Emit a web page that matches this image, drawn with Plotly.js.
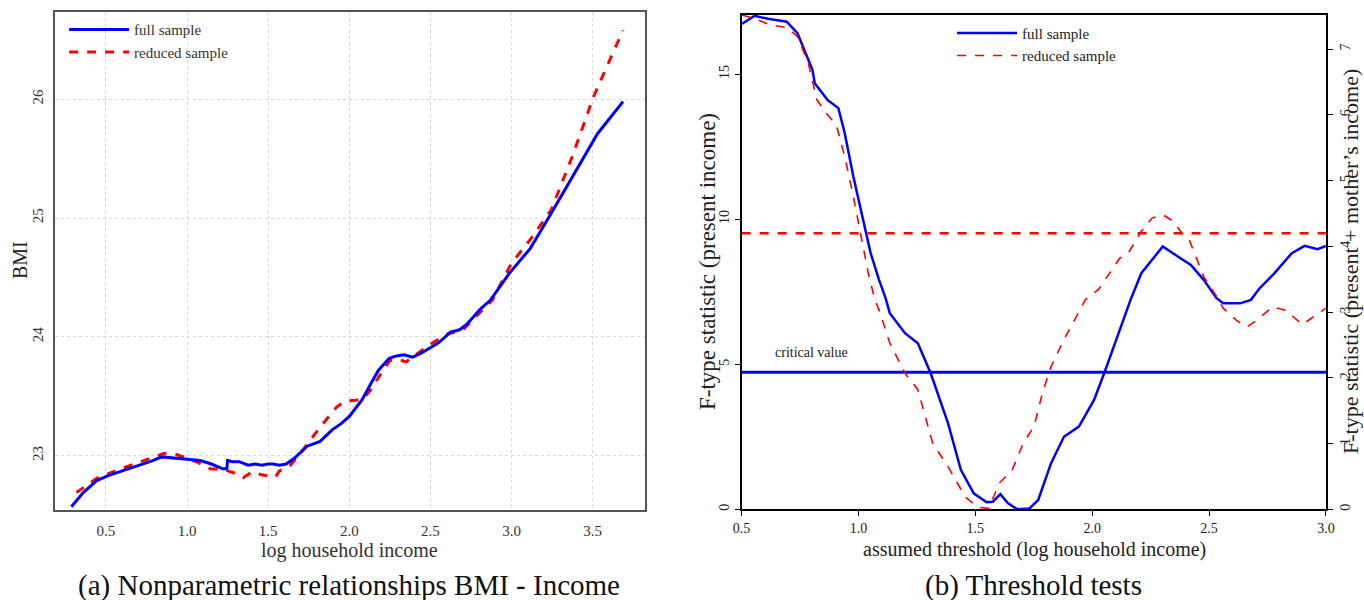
<!DOCTYPE html>
<html>
<head>
<meta charset="utf-8">
<script src="https://cdn.plot.ly/plotly-3.0.1.min.js"></script>
<style>
  body { margin: 0; background: #fff; }
  #graph { width: 1364px; height: 600px; }
</style>
</head>
<body>
<div id="graph"></div>
<script>
// (a) BMI vs log household income
var incomeFull = [0.287, 0.36, 0.443, 0.51, 0.573, 0.64, 0.703, 0.78, 0.845, 0.92, 1.0, 1.08, 1.15, 1.22, 1.245, 1.25, 1.28, 1.32, 1.377, 1.42, 1.46, 1.5, 1.53, 1.57, 1.611, 1.663, 1.74, 1.82, 1.896, 1.95, 2.0, 2.078, 2.13, 2.18, 2.246, 2.29, 2.337, 2.39, 2.44, 2.493, 2.55, 2.6, 2.623, 2.68, 2.727, 2.805, 2.87, 2.986, 3.116, 3.245, 3.375, 3.53, 3.687];
var bmiFull = [22.57, 22.69, 22.79, 22.83, 22.86, 22.89, 22.92, 22.955, 22.99, 22.98, 22.975, 22.96, 22.93, 22.89, 22.89, 22.96, 22.95, 22.95, 22.92, 22.93, 22.92, 22.93, 22.93, 22.92, 22.93, 22.98, 23.08, 23.12, 23.22, 23.27, 23.33, 23.47, 23.60, 23.72, 23.82, 23.84, 23.85, 23.83, 23.86, 23.90, 23.95, 24.01, 24.04, 24.06, 24.11, 24.23, 24.31, 24.535, 24.745, 25.04, 25.35, 25.71, 25.98];

var incomeReduced = [0.318, 0.443, 0.573, 0.703, 0.858, 0.935, 1.066, 1.144, 1.235, 1.30, 1.346, 1.403, 1.458, 1.50, 1.546, 1.567, 1.637, 1.715, 1.82, 1.922, 1.974, 2.078, 2.13, 2.195, 2.25, 2.30, 2.35, 2.41, 2.49, 2.596, 2.70, 2.78, 2.882, 3.0, 3.116, 3.245, 3.375, 3.505, 3.687];
var bmiReduced = [22.69, 22.81, 22.88, 22.944, 23.02, 23.01, 22.944, 22.89, 22.88, 22.85, 22.815, 22.865, 22.84, 22.83, 22.82, 22.87, 22.92, 23.05, 23.24, 23.41, 23.46, 23.47, 23.55, 23.69, 23.80, 23.81, 23.79, 23.85, 23.93, 24.02, 24.06, 24.17, 24.31, 24.62, 24.82, 25.07, 25.52, 26.02, 26.58];

// (b) threshold tests
var thrFull = [0.5, 0.555, 0.619, 0.693, 0.739, 0.803, 0.813, 0.868, 0.914, 0.941, 0.978, 1.015, 1.052, 1.088, 1.116, 1.134, 1.199, 1.254, 1.309, 1.383, 1.438, 1.493, 1.548, 1.575, 1.607, 1.64, 1.68, 1.732, 1.769, 1.824, 1.879, 1.943, 2.008, 2.054, 2.118, 2.164, 2.21, 2.265, 2.302, 2.376, 2.422, 2.477, 2.532, 2.56, 2.633, 2.679, 2.716, 2.78, 2.854, 2.909, 2.964, 3.0];
var fFull = [16.73, 17.01, 16.9, 16.81, 16.41, 15.15, 14.69, 14.11, 13.83, 12.97, 11.47, 10.09, 8.83, 7.91, 7.28, 6.76, 6.07, 5.72, 4.69, 2.97, 1.36, 0.55, 0.24, 0.26, 0.52, 0.21, 0.0, 0.03, 0.32, 1.59, 2.50, 2.85, 3.77, 4.75, 6.18, 7.22, 8.14, 8.71, 9.06, 8.66, 8.42, 7.91, 7.28, 7.10, 7.10, 7.22, 7.62, 8.14, 8.83, 9.08, 8.97, 9.08];

var thrReduced = [0.5, 0.555, 0.619, 0.693, 0.739, 0.785, 0.822, 0.868, 0.905, 0.941, 0.978, 1.015, 1.042, 1.07, 1.088, 1.134, 1.199, 1.254, 1.318, 1.383, 1.456, 1.511, 1.557, 1.603, 1.658, 1.704, 1.751, 1.787, 1.824, 1.879, 1.916, 1.971, 2.026, 2.072, 2.118, 2.155, 2.21, 2.256, 2.302, 2.348, 2.394, 2.415, 2.477, 2.532, 2.56, 2.615, 2.66, 2.706, 2.771, 2.826, 2.9, 2.927, 2.982, 3.0];
var fReduced = [7.52, 7.47, 7.37, 7.33, 7.19, 6.79, 6.23, 6.0, 5.85, 5.37, 4.76, 4.10, 3.59, 3.19, 3.03, 2.53, 2.07, 1.82, 1.0, 0.65, 0.19, 0.03, 0.015, 0.40, 0.60, 1.0, 1.26, 1.77, 2.17, 2.58, 2.83, 3.19, 3.34, 3.59, 3.82, 3.90, 4.23, 4.43, 4.48, 4.38, 4.15, 4.10, 3.54, 3.24, 3.06, 2.88, 2.77, 2.88, 3.08, 3.03, 2.81, 2.88, 3.01, 3.06];

var thrRange = [0.5, 3.0];
var critFull = [4.72, 4.72];
var critReduced = [4.20, 4.20];

var serif = "Liberation Serif";
var blue = "#0000ff";
var red = "#ff0000";

var data = [
  {x: incomeReduced, y: bmiReduced, type: "scatter", mode: "lines", name: "reduced sample",
   xaxis: "x", yaxis: "y", legend: "legend", legendrank: 2,
   line: {color: red, width: 3, dash: "dash"}},
  {x: incomeFull, y: bmiFull, type: "scatter", mode: "lines", name: "full sample",
   xaxis: "x", yaxis: "y", legend: "legend", legendrank: 1,
   line: {color: blue, width: 3}},

  {x: thrRange, y: critReduced, type: "scatter", mode: "lines", showlegend: false,
   xaxis: "x2", yaxis: "y3", line: {color: red, width: 2.5, dash: "dash"}},
  {x: thrReduced, y: fReduced, type: "scatter", mode: "lines", name: "reduced sample",
   xaxis: "x2", yaxis: "y3", legend: "legend2", legendrank: 2,
   line: {color: red, width: 1.6, dash: "dash"}},
  {x: thrRange, y: critFull, type: "scatter", mode: "lines", showlegend: false,
   xaxis: "x2", yaxis: "y2", line: {color: blue, width: 3}},
  {x: thrFull, y: fFull, type: "scatter", mode: "lines", name: "full sample",
   xaxis: "x2", yaxis: "y2", legend: "legend2", legendrank: 1,
   line: {color: blue, width: 2.5}}
];

function label(text, x, y, size, angle, color) {
  return {text: text, xref: "paper", yref: "paper", x: x / 1364, y: 1 - y / 600,
    xanchor: "center", yanchor: "middle", textangle: angle || 0, showarrow: false,
    font: {size: size, color: color || "#222"}};
}

var layout = {
  width: 1364, height: 600,
  margin: {l: 0, r: 0, t: 0, b: 0},
  paper_bgcolor: "#fff", plot_bgcolor: "rgba(0,0,0,0)",
  font: {family: serif, size: 15, color: "#222"},
  xaxis: {domain: [0.0401, 0.4729], anchor: "y", range: [0.184, 3.823],
    tickvals: [0.5, 1.0, 1.5, 2.0, 2.5, 3.0, 3.5], tickformat: ".1f",
    showgrid: true, gridcolor: "#d8d8d8", griddash: "dot", gridwidth: 1,
    zeroline: false, showline: true, mirror: true, linecolor: "#555", linewidth: 1.5,
    ticks: "", ticklabelstandoff: 6, tickfont: {size: 15, color: "#333"}},
  yaxis: {domain: [0.15, 0.9805], anchor: "x", range: [22.543, 26.737],
    tickvals: [23, 24, 25, 26], tickangle: -90,
    showgrid: true, gridcolor: "#d8d8d8", griddash: "dot", gridwidth: 1,
    zeroline: false, showline: true, mirror: true, linecolor: "#555", linewidth: 1.5,
    ticks: "", ticklabelstandoff: 4, tickfont: {size: 15, color: "#333"}},

  xaxis2: {domain: [0.5437, 0.9721], anchor: "y2", range: [0.5, 3.0],
    tickvals: [0.5, 1.0, 1.5, 2.0, 2.5, 3.0], tickformat: ".1f",
    showgrid: false, zeroline: false, showline: true, mirror: true, linecolor: "#000", linewidth: 1.5,
    ticks: "outside", ticklen: 5, tickcolor: "#000", tickfont: {size: 14, color: "#222"}},
  yaxis2: {domain: [0.1512, 0.975], anchor: "x2", range: [0, 17.04],
    tickvals: [0, 5, 10, 15], tickangle: -90,
    showgrid: false, zeroline: false, showline: true, linecolor: "#000", linewidth: 1.5,
    ticks: "outside", ticklen: 5, tickcolor: "#000", tickfont: {size: 14, color: "#222"}},
  yaxis3: {overlaying: "y2", anchor: "x2", side: "right", range: [0, 7.52],
    tickvals: [0, 1, 2, 3, 4, 5, 6, 7], tickangle: -90,
    showgrid: false, zeroline: false, showline: true, linecolor: "#000", linewidth: 1.5,
    ticks: "outside", ticklen: 5, tickcolor: "#000", tickfont: {size: 14, color: "#222"}},

  legend: {x: 0.047, y: 0.978, xanchor: "left", yanchor: "top",
    bgcolor: "rgba(0,0,0,0)", font: {family: serif, size: 15, color: "#333"},
    itemwidth: 60, tracegroupgap: 0},
  legend2: {x: 0.698, y: 0.972, xanchor: "left", yanchor: "top",
    bgcolor: "rgba(0,0,0,0)", font: {family: serif, size: 15, color: "#222"},
    itemwidth: 60, tracegroupgap: 0},

  annotations: [
    {text: "critical value", xref: "x2", yref: "y2", x: 0.80, y: 5.42,
     showarrow: false, font: {size: 14, color: "#222"}},
    label("BMI", 20, 260, 20, -90),
    label("log household income", 349, 550, 20, 0, "#333"),
    label("(a) Nonparametric relationships BMI - Income", 349, 585, 29, 0, "#111"),
    label("F-type statistic (present income)", 707, 262, 23, -90),
    label("F-type statistic (present + mother\u2019s income)", 1350, 262, 22, -90),
    label("assumed threshold (log household income)", 1034, 549, 20),
    label("(b) Threshold tests", 1033, 585, 29, 0, "#111")
  ]
};

Plotly.newPlot("graph", data, layout, {displayModeBar: false});
</script>
</body>
</html>
